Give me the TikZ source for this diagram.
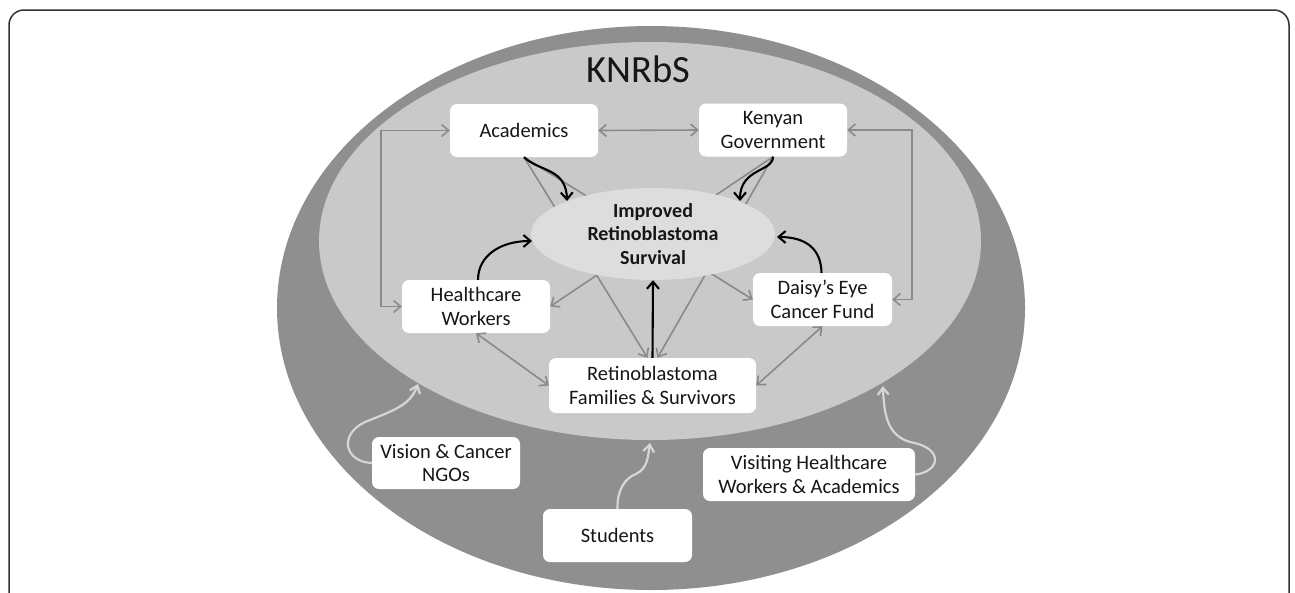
\documentclass[tikz,border=0pt]{standalone}
\usepackage{fontspec}
\setmainfont{Carlito}
\usetikzlibrary{arrows.meta,shapes.geometric}
\definecolor{ringc}{HTML}{8F8F8F}
\definecolor{innerc}{HTML}{C9C9C9}
\definecolor{corec}{HTML}{DDDDDD}
\definecolor{connc}{HTML}{8A8A8A}
\definecolor{lightc}{HTML}{D6D6D6}
\definecolor{framec}{HTML}{333333}
\definecolor{txtc}{HTML}{161616}
\begin{document}
\begin{tikzpicture}[x=1pt,y=-1pt,
  box/.style={fill=white, rounded corners=7pt, minimum height=53pt, inner sep=0pt,
    align=center, text=txtc, font=\fontsize{20.5}{23.5}\selectfont},
  gone/.style={draw=connc, line width=1.6pt, -{Straight Barb[length=7pt,width=12pt]}},
  gboth/.style={draw=connc, line width=1.6pt, {Straight Barb[length=7pt,width=12pt]}-{Straight Barb[length=7pt,width=12pt]}},
  barrow/.style={draw=black, line width=2.1pt, -{Straight Barb[length=7pt,width=12pt]}},
  larrow/.style={draw=lightc, line width=2.2pt, -{Straight Barb[length=7pt,width=11pt]}}
]
\useasboundingbox (0,0) rectangle (1295,592);
\clip (0,0) rectangle (1295,592);
\fill[white] (0,0) rectangle (1295,592);
% frame
\draw[framec, line width=1.5pt, rounded corners=15pt] (9,620) -- (9,10) -- (1289,10) -- (1289,620);
% ellipses
\fill[ringc] (651,308) ellipse [x radius=374, y radius=282];
\fill[innerc] (650,241) ellipse [x radius=331, y radius=199];
% title
\node[anchor=base, font=\fontsize{38.5}{44}\selectfont, text=txtc, inner sep=0pt] (title) at (638.5,82) {KNRbS};
% nodes
\node[box, minimum width=148pt] (acad) at (524,130.5) {Academics};
\node[box, minimum width=148pt] (gov) at (773,130) {Kenyan\\Government};
\node[box, minimum width=148pt] (hcw) at (476,306.5) {Healthcare\\Workers};
\node[box, minimum width=139pt] (daisy) at (822.5,299.5) {Daisy’s Eye\\Cancer Fund};
\node[box, minimum width=207pt, minimum height=55pt] (fam) at (652.5,385.5) {Retinoblastoma\\Families \& Survivors};
\node[box, minimum width=148pt, minimum height=52pt] (ngo) at (446,463) {Vision \& Cancer\\NGOs};
\node[box, minimum width=212pt] (visit) at (809,474.5) {Visiting Healthcare\\Workers \& Academics};
\node[box, minimum width=149pt] (stud) at (617.5,535.5) {Students};
% gray connectors (behind central ellipse)
\draw[gboth] (acad.east) -- (gov.west);
\draw[gboth] (acad.west) -- ++(-69,0) |- (hcw.west);
\draw[gboth] (gov.east) -- ++(65,0) |- (daisy.east);
\draw[gboth] (hcw.south) -- (fam.west);
\draw[gboth] (daisy.south) -- (fam.east);
\draw[gone] (acad.south) -- ([xshift=-5pt]fam.north);
\draw[gone] (acad.south) -- (daisy.west);
\draw[gone] (gov.south) -- ([xshift=5pt]fam.north);
\draw[gone] (gov.south) -- (hcw.east);
% central ellipse
\node[ellipse, fill=corec, minimum width=244pt, minimum height=92pt, inner sep=0pt,
  align=center, text=txtc, font=\bfseries\fontsize{20}{23.5}\selectfont] (surv) at (653,234)
  {Improved\\Retinoblastoma\\Survival};
% black arrows
\coordinate (sa) at (567,201);
\coordinate (sg) at (740,201);
\coordinate (sh) at (532,241);
\coordinate (sd) at (777,237);
\draw[barrow] (acad.south) .. controls (540,172) and (566,168) .. (sa);
\draw[barrow] (gov.south) .. controls (773,172) and (740,168) .. (sg);
\draw[barrow] ([xshift=2pt]hcw.north) .. controls (478,256) and (500,241) .. (sh);
\draw[barrow] ([xshift=-1pt]daisy.north) .. controls (821,248) and (805,237) .. (sd);
\draw[barrow] (fam.north) -- (surv.south);
% light arrows from outside
\coordinate (rn) at (418,384);
\coordinate (rs) at (650,443);
\coordinate (rv) at (883,386);
\draw[larrow] (ngo.west) .. controls (345,462) and (338,435) .. (365,422) .. controls (395,410) and (410,405) .. (rn);
\draw[larrow] (stud.north) .. controls (617,490) and (625,478) .. (636,474) .. controls (648,468) and (648,456) .. (rs);
\draw[larrow] (visit.east) .. controls (940,472) and (945,448) .. (910,442) .. controls (890,436) and (884,420) .. (rv);
\end{tikzpicture}
\end{document}
